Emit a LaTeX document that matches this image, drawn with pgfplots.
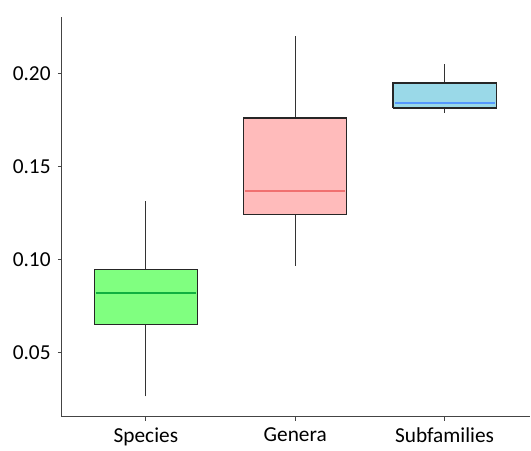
\documentclass[border=0pt]{standalone}
\usepackage{pgfplots}
\pgfplotsset{compat=1.18}
\usepackage{fontspec}
\setmainfont{Carlito}
\definecolor{boxgreen}{HTML}{80FF80}
\definecolor{medgreen}{HTML}{10B040}
\definecolor{boxpink}{HTML}{FFBBBB}
\definecolor{medred}{HTML}{F07070}
\definecolor{boxblue}{HTML}{9AD9E8}
\definecolor{medblue}{HTML}{5599FF}
\definecolor{axgray}{HTML}{444444}
\begin{document}
\begin{tikzpicture}
\begin{axis}[
  name=ax,
  scale only axis,
  width=351.75pt, height=300pt,
  xmin=0.438, xmax=3.575,
  ymin=0.0156, ymax=0.2305,
  axis lines*=left,
  axis line style={axgray, line width=0.8pt},
  tick align=outside,
  major tick length=3pt,
  tick style={axgray, line width=0.6pt},
  xtick={1,2,3},
  xticklabels={Species,Genera,Subfamilies},
  ytick={0.05,0.10,0.15,0.20},
  yticklabels={0.05,0.10,0.15,0.20},
  ticklabel style={font=\fontsize{16}{19}\selectfont},
  xticklabel style={yshift=-2pt, text depth=0.25em},
  yticklabel style={xshift=-2pt},
  wh/.style={draw=black!80, line width=0.9pt, mark=none, solid},
  bx/.style={draw=black!85, line width=0.9pt, mark=none, solid, fill=#1, line join=miter},
  md/.style={draw=#1, line width=1.2pt, mark=none, solid},
]
% Species
\addplot[wh] coordinates {(1,0.0264) (1,0.0650)};
\addplot[wh] coordinates {(1,0.0946) (1,0.1316)};
\addplot[bx=boxgreen] coordinates {(0.655,0.0650) (1.345,0.0650) (1.345,0.0946) (0.655,0.0946) (0.655,0.0650)};
\addplot[md=medgreen] coordinates {(0.665,0.0822) (1.335,0.0822)};
% Genera
\addplot[wh] coordinates {(2,0.0967) (2,0.1241)};
\addplot[wh] coordinates {(2,0.1762) (2,0.2202)};
\addplot[bx=boxpink] coordinates {(1.655,0.1241) (2.345,0.1241) (2.345,0.1762) (1.655,0.1762) (1.655,0.1241)};
\addplot[md=medred] coordinates {(1.665,0.1370) (2.335,0.1370)};
% Subfamilies
\addplot[wh] coordinates {(3,0.1789) (3,0.1816)};
\addplot[wh] coordinates {(3,0.1950) (3,0.2052)};
\addplot[bx=boxblue] coordinates {(2.655,0.1816) (3.345,0.1816) (3.345,0.1950) (2.655,0.1950) (2.655,0.1816)};
\addplot[md=medblue] coordinates {(2.665,0.1843) (3.335,0.1843)};
\end{axis}
\path ([xshift=-46.5pt, yshift=-22.5pt]ax.south west) rectangle ([yshift=12.75pt]ax.north east);
\end{tikzpicture}
\end{document}
